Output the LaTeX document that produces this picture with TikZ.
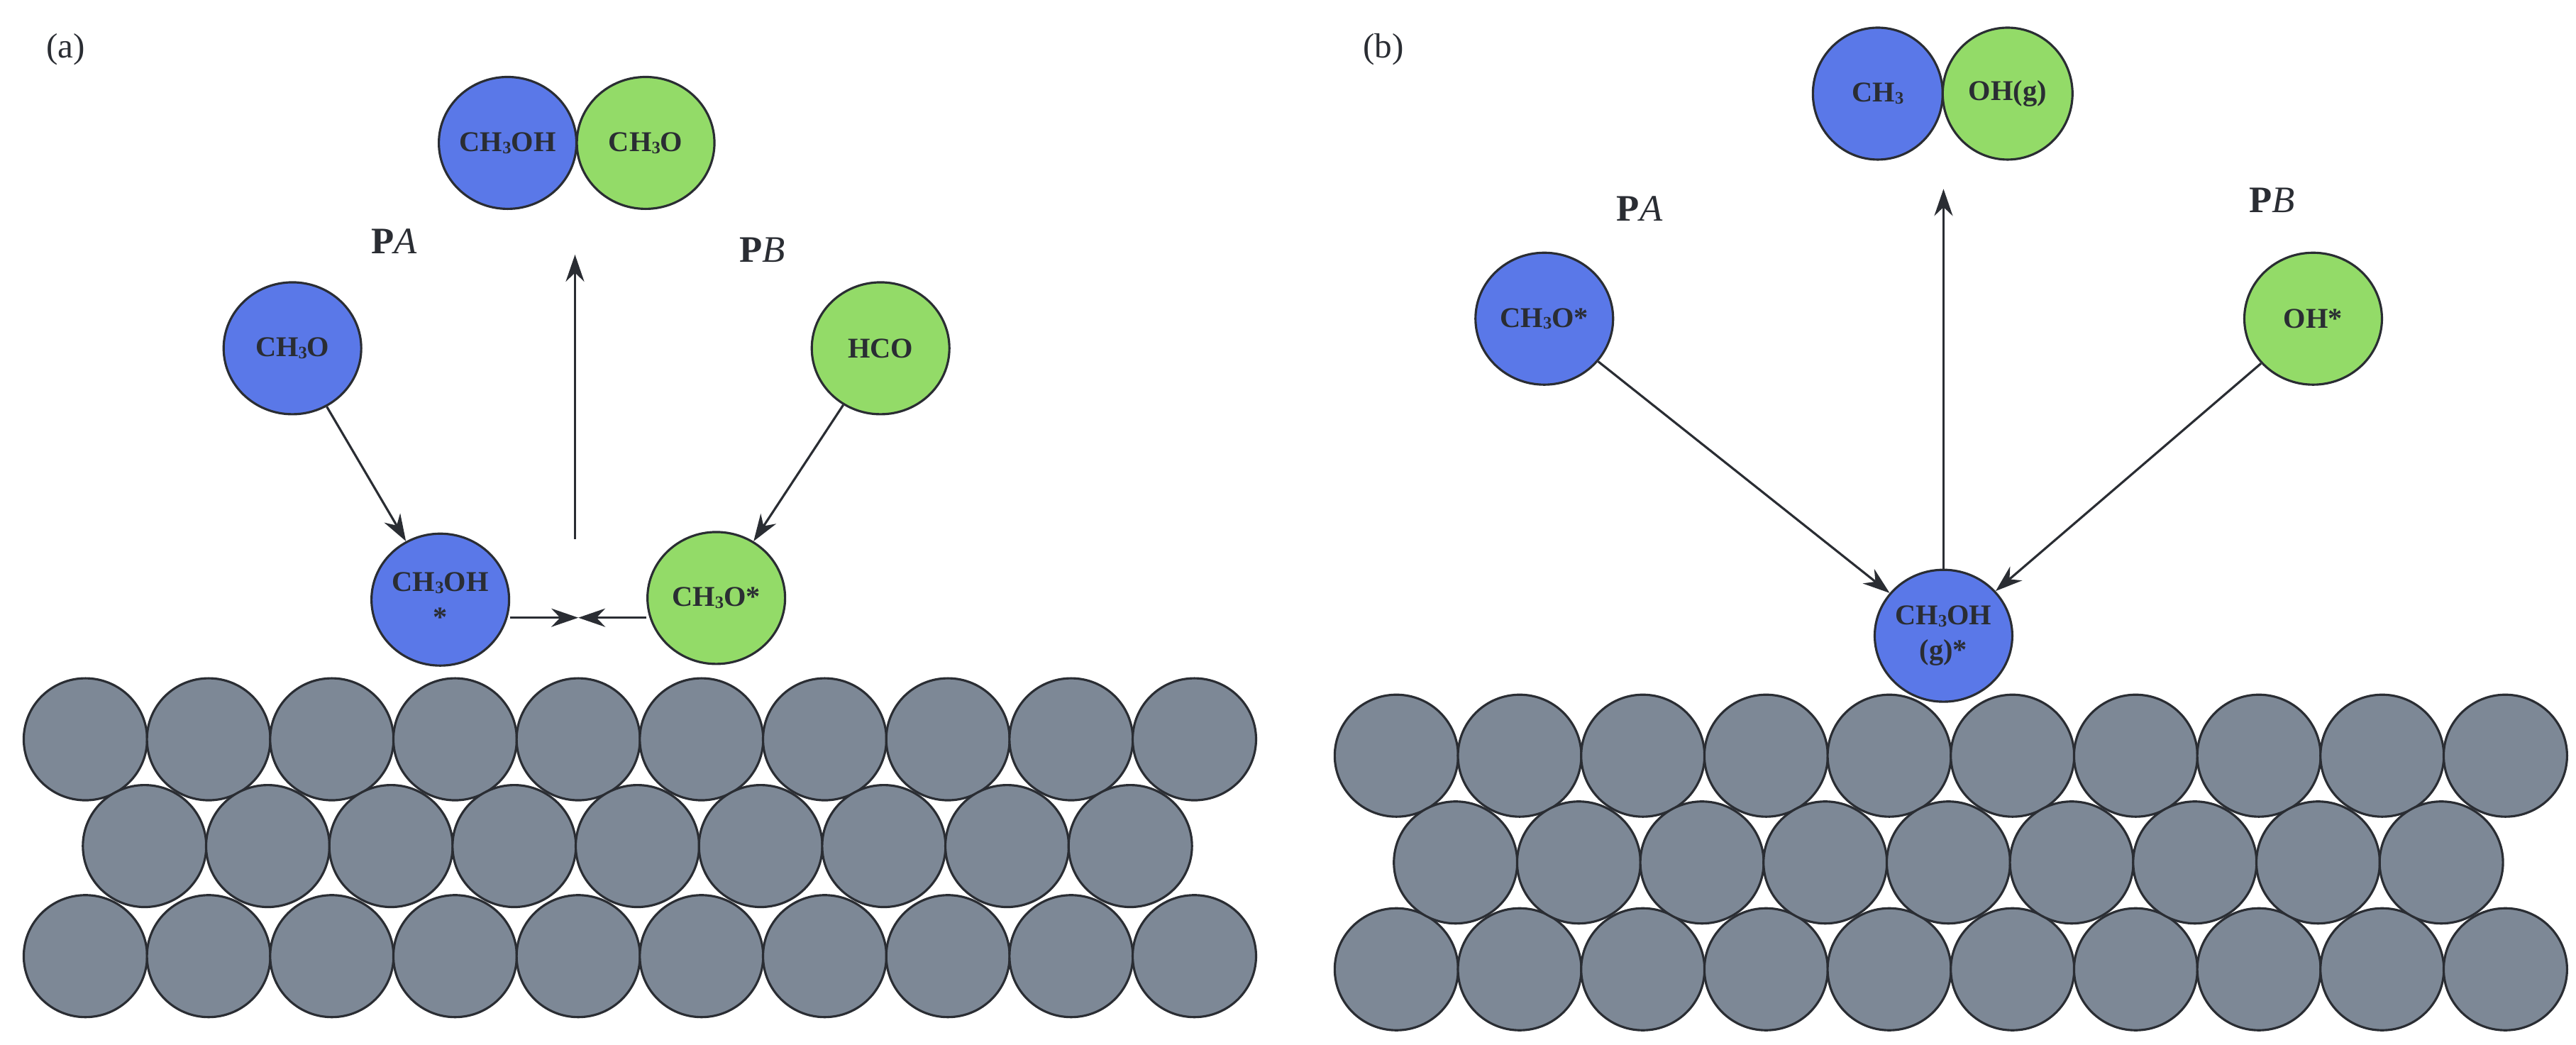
\documentclass[tikz,border=0pt]{standalone}
\usepackage{fontspec}
\setmainfont{Liberation Serif}
\usetikzlibrary{arrows.meta,shapes.geometric}
\definecolor{mblue}{HTML}{5A78E8}
\definecolor{mgreen}{HTML}{93DB68}
\definecolor{mgray}{HTML}{7D8896}
\definecolor{mline}{HTML}{2A2D33}
\tikzset{
 mol/.style={ellipse, draw=mline, line width=0.9pt, minimum width=1.94cm, minimum height=1.86cm, inner sep=0pt, align=center, font=\fontsize{11.5}{14}\selectfont\bfseries, text=mline},
 bmol/.style={mol, fill=mblue},
 gmol/.style={mol, fill=mgreen},
 atom/.style={ellipse, draw=mline, line width=0.9pt, fill=mgray, minimum width=1.74cm, minimum height=1.72cm, inner sep=0pt},
 arr/.style={draw=mline, line width=0.9pt, -{Stealth[length=0.38cm,width=0.26cm]}},
 lbl/.style={font=\fontsize{15}{18}\selectfont, text=mline},
 plbl/.style={font=\fontsize{14}{16}\selectfont, text=mline}
}
\newcommand{\sub}[1]{\raisebox{-0.15ex}{\fontsize{7}{8}\selectfont #1}}
\begin{document}
\begin{tikzpicture}[x=0.02316cm, y=-0.02316cm]
\useasboundingbox (0,0) rectangle (1568,636);
% labels
\node[plbl] (la) at (40,30) {(a)};
\node[plbl] (lb) at (842,30) {(b)};
% (a) atoms
\foreach \i in {0,...,9} {
  \node[atom] (ar1\i) at ({52+75*\i},450) {};
  \node[atom] (ar3\i) at ({52+75*\i},582) {};
}
\foreach \i in {0,...,8} { \node[atom] (ar2\i) at ({88+75*\i},515) {}; }
% (b) atoms
\foreach \i in {0,...,9} {
  \node[atom] (br1\i) at ({850+75*\i},460) {};
  \node[atom] (br3\i) at ({850+75*\i},590) {};
}
\foreach \i in {0,...,8} { \node[atom] (br2\i) at ({886+75*\i},525) {}; }
% (a) molecules
\node[bmol] (a1) at (309,87) {CH\sub{3}OH};
\node[gmol] (a2) at (393,87) {CH\sub{3}O};
\node[lbl] (pa) at (240,147) {\textbf{P}\itshape A};
\node[lbl] (pb) at (464,152) {\textbf{P}\itshape B};
\node[bmol] (a3) at (178,212) {CH\sub{3}O};
\node[gmol] (a4) at (536,212) {HCO};
\node[bmol] (a5) at (268,365) {CH\sub{3}OH\\*};
\node[gmol] (a6) at (436,364) {CH\sub{3}O*};
\coordinate (am) at (352,376);
\coordinate (avb) at (350,328);
\coordinate (avt) at (350,155);
\draw[arr] (a3) -- (a5);
\draw[arr] (a4) -- (a6);
\draw[arr] (a5.east |- am) -- (am);
\draw[arr] (a6.west |- am) -- (am);
\draw[arr] (avb) -- (avt);
% (b) molecules
\node[bmol, minimum width=1.83cm] (b1) at (1143,57) {CH\sub{3}};
\node[gmol, minimum width=1.83cm] (b2) at (1222,57) {OH(g)};
\node[lbl] (pa2) at (998,127) {\textbf{P}\itshape A};
\node[lbl] (pb2) at (1383,122) {\textbf{P}\itshape B};
\node[bmol] (b3) at (940,194) {CH\sub{3}O*};
\node[gmol] (b4) at (1408,194) {OH*};
\node[bmol] (b5) at (1183,387) {CH\sub{3}OH\\(g)*};
\coordinate (bvt) at (1183,115);
\draw[arr] (b3) -- (b5);
\draw[arr] (b4) -- (b5);
\draw[arr] (b5.north) -- (bvt);
\end{tikzpicture}
\end{document}
